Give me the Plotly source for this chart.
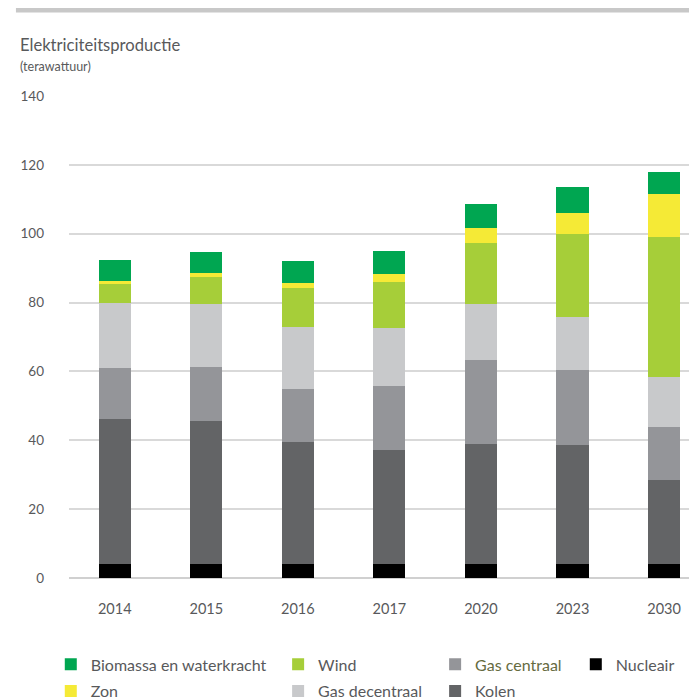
import plotly.graph_objects as go

# Elektriciteitsproductie (terawattuur)
jaren = ["2014", "2015", "2016", "2017", "2020", "2023", "2030"]

nucleair = [4.0, 4.0, 4.0, 4.0, 4.0, 4.0, 4.0]
kolen = [42.3, 41.5, 35.4, 33.3, 34.8, 34.5, 24.4]
gas_centraal = [14.6, 15.9, 15.6, 18.6, 24.4, 22.0, 15.6]
gas_decentraal = [19.1, 18.3, 18.0, 16.8, 16.5, 15.4, 14.3]
wind = [5.5, 7.6, 11.1, 13.4, 17.7, 24.1, 40.8]
zon = [0.9, 1.4, 1.7, 2.3, 4.3, 6.1, 12.5]
biomassa = [6.1, 6.1, 6.4, 6.7, 7.0, 7.5, 6.4]

y_ticks = [0, 20, 40, 60, 80, 100, 120, 140]

tekst = "#58595b"
font_naam = "Lato"

# volgorde van onder naar boven in de stapel; laatste veld = plek in de legenda
series = [
    ("Nucleair", nucleair, "#000000", "legend4", 1),
    ("Kolen", kolen, "#636466", "legend3", 2),
    ("<span style='color:#666b3f'>Gas centraal</span>", gas_centraal, "#949599", "legend3", 1),
    ("Gas decentraal", gas_decentraal, "#c8c9cb", "legend2", 2),
    ("Wind", wind, "#a6ce39", "legend2", 1),
    ("Zon", zon, "#f5ea36", "legend", 2),
    ("Biomassa en waterkracht", biomassa, "#00a651", "legend", 1),
]

fig = go.Figure()
for naam, waarden, kleur, leg, rang in series:
    fig.add_trace(go.Bar(
        x=jaren, y=waarden, name=naam,
        marker=dict(color=kleur, line=dict(width=0)),
        width=0.35, legend=leg, legendgroup=naam, legendrank=rang,
    ))

leg_font = dict(family=font_naam, size=16, color=tekst)
leg_basis = dict(orientation="v", yanchor="top", y=-0.144, xanchor="left",
                 traceorder="grouped", tracegroupgap=3,
                 font=leg_font, bgcolor="rgba(0,0,0,0)", itemclick=False)

# de pagina heeft 8px marge rond de figuur
fig.update_layout(
    width=689, height=691,
    barmode="stack",
    plot_bgcolor="white", paper_bgcolor="white",
    margin=dict(l=61, r=0, t=88, b=121, autoexpand=False),
    font=dict(family=font_naam, color=tekst),
    legend=dict(leg_basis, x=-0.029),
    legend2=dict(leg_basis, x=0.333),
    legend3=dict(leg_basis, x=0.583),
    legend4=dict(leg_basis, x=0.807),
    xaxis=dict(
        range=[-0.5, 6.36],
        showgrid=False, showline=False, zeroline=False,
        ticks="", ticklabelstandoff=20,
        tickfont=dict(family=font_naam, size=14.5, color=tekst),
    ),
    yaxis=dict(
        range=[0, 140], tickvals=y_ticks,
        showgrid=True, gridcolor="#d9d9d9", gridwidth=2,
        zeroline=True, zerolinecolor="#d0d0d0", zerolinewidth=1.5,
        showline=False, ticks="", ticklabelstandoff=24,
        tickfont=dict(family=font_naam, size=13.5, color=tekst),
    ),
    shapes=[dict(type="rect", xref="paper", yref="paper",
                 x0=-0.0845, x1=1.0, y0=1.173, y1=1.189,
                 fillcolor="#c8c8c8", line=dict(width=0), layer="above")],
    annotations=[
        dict(text="Elektriciteitsproductie", xref="paper", yref="paper",
             x=-0.081, y=1.106, xanchor="left", yanchor="middle",
             showarrow=False, font=dict(family=font_naam, size=16.6, color=tekst)),
        dict(text="(terawattuur)", xref="paper", yref="paper",
             x=-0.081, y=1.062, xanchor="left", yanchor="middle",
             showarrow=False, font=dict(family=font_naam, size=12.5, color=tekst)),
    ],
)

fig.write_html("out.html")
